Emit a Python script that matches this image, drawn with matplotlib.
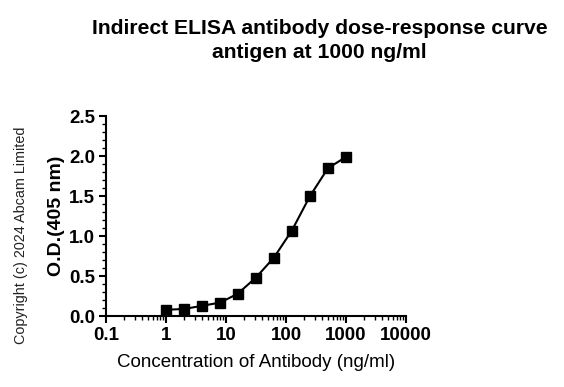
import numpy as np
import matplotlib.pyplot as plt
from matplotlib.ticker import LogLocator, FixedFormatter, MultipleLocator

plt.rcParams['font.family'] = ['Liberation Sans', 'DejaVu Sans']

conc = [1, 2, 4, 8, 15.6, 31.25, 62.5, 125, 250, 500, 1000]
od = [0.08, 0.09, 0.13, 0.17, 0.28, 0.48, 0.73, 1.07, 1.50, 1.85, 1.99]
xticks = [0.1, 1, 10, 100, 1000, 10000]
xticklabels = ["0.1", "1", "10", "100", "1000", "10000"]

fig = plt.figure(figsize=(5.64, 3.87), dpi=100)
ax = fig.add_axes([0.188, 0.183, 0.532, 0.517])

ax.plot(conc, od, color="black", lw=1.5, marker="s", ms=7, clip_on=False)
ax.set_xscale("log")
ax.set_xlim(0.1, 10000)
ax.set_ylim(0, 2.5)
ax.set_xticks(xticks)
ax.xaxis.set_major_formatter(FixedFormatter(xticklabels))
ax.xaxis.set_minor_locator(LogLocator(base=10, subs=np.arange(2, 10)))
ax.yaxis.set_major_locator(MultipleLocator(0.5))
ax.yaxis.set_minor_locator(MultipleLocator(0.1))
ax.yaxis.set_major_formatter(plt.FuncFormatter(lambda v, p: f"{v:.1f}"))

for s in ["top", "right"]:
    ax.spines[s].set_visible(False)
for s in ["left", "bottom"]:
    ax.spines[s].set_linewidth(1.5)
ax.tick_params(which="major", direction="out", length=5, width=1.5, labelsize=13.5, pad=3)
ax.tick_params(which="minor", direction="out", length=3, width=1)
for lbl in ax.get_xticklabels() + ax.get_yticklabels():
    lbl.set_fontweight("bold")

ax.set_xlabel("Concentration of Antibody (ng/ml)", fontsize=13.5, labelpad=7)
ax.set_ylabel("O.D.(405 nm)", fontsize=14, fontweight="bold", labelpad=3)

fig.text(0.567, 0.895, "Indirect ELISA antibody dose-response curve\nantigen at 1000 ng/ml",
         ha="center", va="center", fontsize=15.2, fontweight="bold", linespacing=1.35)
fig.text(0.037, 0.393, "Copyright (c) 2024 Abcam Limited", rotation=90,
         ha="center", va="center", fontsize=10.4, color="#222222")

fig.savefig("out.png", dpi=100)
